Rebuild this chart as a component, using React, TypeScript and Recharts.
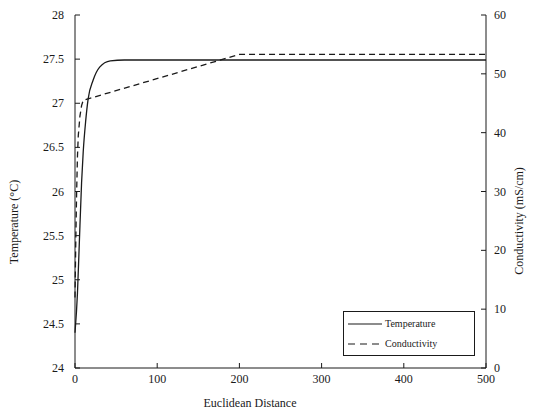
import { ComposedChart, Line, XAxis, YAxis } from "recharts";

document.body.style.margin = "0";

const distanceTicks = [0, 100, 200, 300, 400, 500];
const temperatureTicks = [24, 24.5, 25, 25.5, 26, 26.5, 27, 27.5, 28];
const conductivityTicks = [0, 10, 20, 30, 40, 50, 60];

// Temperature (°C) against Euclidean distance
const temperatureX = [0, 3, 5, 8, 10, 13, 16, 22, 30, 43, 60, 500];
const temperatureValues = [24.4, 24.85, 25.35, 26.1, 26.45, 26.8, 27.05, 27.26, 27.41, 27.48, 27.49, 27.49];

// Conductivity (mS/cm) against Euclidean distance
const conductivityX = [0, 1, 2, 3, 4, 6, 8, 10, 200, 500];
const conductivityValues = [12, 22, 30, 36, 39.5, 42.8, 44.6, 45.5, 53.3, 53.3];

const temperatureData = temperatureX.map((x, i) => ({ x, value: temperatureValues[i] }));
const conductivityData = conductivityX.map((x, i) => ({ x, value: conductivityValues[i] }));

const W = 535;
const H = 414;
const LEFT = 75;
const RIGHT = 486;
const TOP = 15;
const BOTTOM = 368;
const INK = "#1a1a1a";
const FONT = "Liberation Serif";
const TICK = 5;

const textStyle = { fontFamily: FONT, fontSize: 12, fill: INK };

function LeftTick({ y, payload }: any) {
  return (
    <g>
      <line x1={LEFT} x2={LEFT + TICK} y1={y} y2={y} stroke={INK} />
      <text x={LEFT - 11} y={y} dy={4} textAnchor="end" fontFamily={FONT} style={textStyle}>
        {payload.value}
      </text>
    </g>
  );
}

function RightTick({ y, payload }: any) {
  return (
    <g>
      <line x1={RIGHT - TICK} x2={RIGHT} y1={y} y2={y} stroke={INK} />
      <text x={RIGHT + 8} y={y} dy={4} textAnchor="start" fontFamily={FONT} style={textStyle}>
        {payload.value}
      </text>
    </g>
  );
}

function BottomTick({ x, payload }: any) {
  return (
    <g>
      <line x1={x} x2={x} y1={BOTTOM} y2={BOTTOM - TICK} stroke={INK} />
      <text x={x} y={BOTTOM + 15} textAnchor="middle" fontFamily={FONT} style={textStyle}>
        {payload.value}
      </text>
    </g>
  );
}

function TopTick({ x }: any) {
  return <line x1={x} x2={x} y1={TOP} y2={TOP + TICK} stroke={INK} />;
}

function AxisTitle({ px, py, title, rotate }: any) {
  return (
    <text
      x={px}
      y={py}
      textAnchor="middle"
      fontFamily={FONT}
      transform={rotate ? `rotate(${rotate} ${px} ${py})` : undefined}
      style={textStyle}
    >
      {title}
    </text>
  );
}

function LegendBox() {
  return (
    <div
      style={{
        position: "absolute",
        left: 343,
        top: 311,
        width: 132,
        height: 45,
        border: `1px solid ${INK}`,
        background: "#fff",
        fontFamily: FONT,
        fontSize: 10,
        color: INK,
        boxSizing: "border-box",
      }}
    >
      <div style={{ position: "absolute", left: 3, top: 5, display: "flex", alignItems: "center" }}>
        <svg width={36} height={12}>
          <line x1={1} x2={35} y1={7} y2={7} stroke={INK} strokeWidth={1.2} />
        </svg>
        <span style={{ marginLeft: 2 }}>Temperature</span>
      </div>
      <div style={{ position: "absolute", left: 3, top: 25, display: "flex", alignItems: "center" }}>
        <svg width={36} height={12}>
          <line x1={1} x2={37} y1={7} y2={7} stroke={INK} strokeWidth={1.2} strokeDasharray="7 5" />
        </svg>
        <span style={{ marginLeft: 2 }}>Conductivity</span>
      </div>
    </div>
  );
}

export default function App() {
  return (
    <div style={{ position: "relative", width: W, height: H, background: "#fff" }}>
      <ComposedChart
        width={W}
        height={H}
        margin={{ top: TOP, right: 0, bottom: 0, left: 0 }}
      >
        <XAxis
          xAxisId="bottom"
          type="number"
          dataKey="x"
          domain={[0, 500]}
          ticks={distanceTicks}
          interval={0}
          height={H - BOTTOM}
          tickLine={false}
          axisLine={{ stroke: INK }}
          tick={<BottomTick />}
          label={<AxisTitle px={250} py={407} title="Euclidean Distance" />}
        />
        <XAxis
          xAxisId="top"
          orientation="top"
          type="number"
          dataKey="x"
          domain={[0, 500]}
          ticks={distanceTicks}
          interval={0}
          height={0}
          tickLine={false}
          axisLine={{ stroke: INK }}
          tick={<TopTick />}
        />
        <YAxis
          yAxisId="temp"
          orientation="left"
          type="number"
          domain={[24, 28]}
          ticks={temperatureTicks}
          interval={0}
          width={LEFT}
          tickLine={false}
          axisLine={{ stroke: INK }}
          tick={<LeftTick />}
          label={<AxisTitle px={18} py={222} rotate={-90} title="Temperature (°C)" />}
        />
        <YAxis
          yAxisId="cond"
          orientation="right"
          type="number"
          domain={[0, 60]}
          ticks={conductivityTicks}
          interval={0}
          width={W - RIGHT}
          tickLine={false}
          axisLine={{ stroke: INK }}
          tick={<RightTick />}
          label={<AxisTitle px={523} py={221} rotate={-90} title="Conductivity (mS/cm)" />}
        />
        <Line
          xAxisId="bottom"
          yAxisId="temp"
          data={temperatureData}
          dataKey="value"
          type="monotone"
          stroke={INK}
          strokeWidth={1.3}
          dot={false}
          isAnimationActive={false}
        />
        <Line
          xAxisId="bottom"
          yAxisId="cond"
          data={conductivityData}
          dataKey="value"
          type="linear"
          stroke={INK}
          strokeWidth={1.3}
          strokeDasharray="6 4"
          dot={false}
          isAnimationActive={false}
        />
      </ComposedChart>
      <LegendBox />
    </div>
  );
}
